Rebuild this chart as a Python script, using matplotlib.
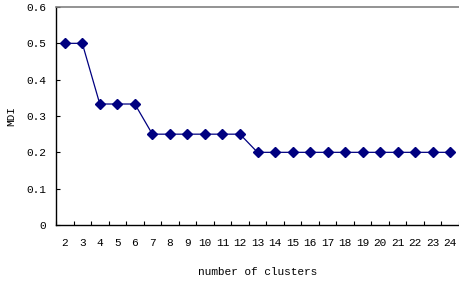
import matplotlib

matplotlib.use("Agg")
import matplotlib.pyplot as plt
import numpy as np

clusters = list(range(2, 25))
mdi = [0.5, 0.5, 0.333, 0.333, 0.333, 0.25, 0.25, 0.25, 0.25, 0.25, 0.25,
       0.2, 0.2, 0.2, 0.2, 0.2, 0.2, 0.2, 0.2, 0.2, 0.2, 0.2, 0.2]
y_ticks = [0, 0.1, 0.2, 0.3, 0.4, 0.5, 0.6]
y_labels = ["0", "0.1", "0.2", "0.3", "0.4", "0.5", "0.6"]

plt.rcParams.update({"font.family": ["Liberation Mono", "DejaVu Sans Mono"], "font.size": 8})

fig = plt.figure(figsize=(4.59, 2.89), dpi=100)
ax = fig.add_axes([56 / 459, 64 / 289, 403 / 459, 218 / 289])

x = np.arange(len(clusters))
ax.plot(x, mdi, "-", color="#000080", lw=0.9, marker="D", ms=5.5,
        mfc="#000080", mec="#000080")

ax.set_xlim(-0.5, len(clusters) - 0.5)
ax.set_ylim(0, 0.6)

ax.set_xticks(x)
ax.set_xticklabels([str(c) for c in clusters])
ax.set_xticks(np.arange(len(clusters) + 1) - 0.5, minor=True)
ax.tick_params(axis="x", which="major", length=0, pad=9)
ax.tick_params(axis="x", which="minor", direction="in", length=3, width=0.8)

ax.set_yticks(y_ticks)
ax.set_yticklabels(y_labels)
ax.tick_params(axis="y", direction="in", length=3, width=0.8, pad=7)

ax.spines["left"].set_linewidth(1.0)
ax.spines["bottom"].set_linewidth(1.0)
ax.spines["top"].set_color("#808080")
ax.spines["top"].set_linewidth(1.2)
ax.spines["right"].set_visible(False)

ax.set_xlabel("number of clusters", labelpad=14)
ax.set_ylabel("MDI")
ax.yaxis.set_label_coords(-40 / 403, 0.5)

fig.savefig("out.png", dpi=100, facecolor="white")
